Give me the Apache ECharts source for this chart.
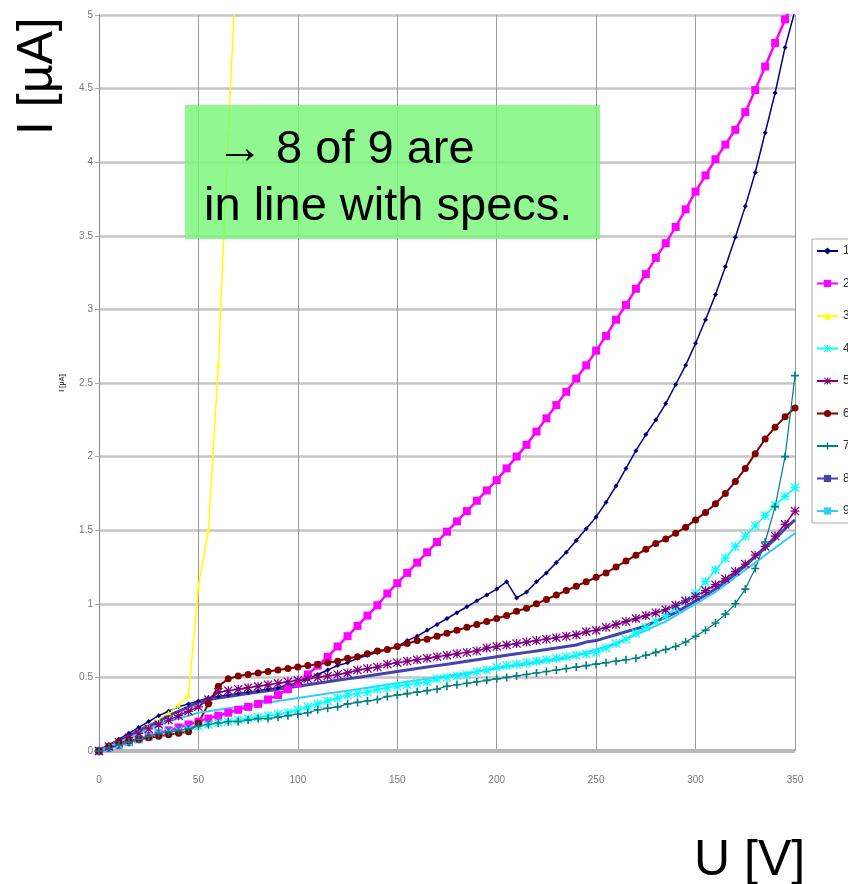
<!DOCTYPE html>
<html>
<head>
<meta charset="utf-8">
<script src="https://cdn.jsdelivr.net/npm/echarts@6/dist/echarts.min.js"></script>
<style>
  html, body { margin: 0; padding: 0; background: #fff; }
  #chart { width: 848px; height: 884px; }
</style>
</head>
<body>
<div id="chart"></div>
<script>
// voltage steps [V]
var volts = [0, 5, 10, 15, 20, 25, 30, 35, 40, 45, 50, 55, 60, 65, 70, 75, 80, 85, 90, 95,
    100, 105, 110, 115, 120, 125, 130, 135, 140, 145, 150, 155, 160, 165, 170, 175, 180, 185, 190, 195,
    200, 205, 210, 215, 220, 225, 230, 235, 240, 245, 250, 255, 260, 265, 270, 275, 280, 285, 290, 295,
    300, 305, 310, 315, 320, 325, 330, 335, 340, 345, 350];

var xTicks = [0, 50, 100, 150, 200, 250, 300, 350];
var yTicks = [0, 0.5, 1, 1.5, 2, 2.5, 3, 3.5, 4, 4.5, 5];
var names = ['1', '2', '3', '4', '5', '6', '7', '8', '9'];

// currents [uA], one value per voltage step
var cur1 = [0, 0.04, 0.08, 0.12, 0.16, 0.2, 0.24, 0.27, 0.3, 0.32,
    0.34, 0.36, 0.37, 0.38, 0.39, 0.4, 0.41, 0.42, 0.43, 0.45,
    0.46, 0.49, 0.52, 0.55, 0.58, 0.6, 0.63, 0.65, 0.67, 0.69,
    0.71, 0.75, 0.78, 0.82, 0.86, 0.9, 0.94, 0.98, 1.02, 1.06,
    1.1, 1.15, 1.04, 1.08, 1.15, 1.21, 1.28, 1.35, 1.43, 1.51,
    1.59, 1.69, 1.8, 1.92, 2.04, 2.15, 2.25, 2.36, 2.49, 2.62,
    2.77, 2.93, 3.1, 3.29, 3.49, 3.7, 3.93, 4.2, 4.47, 4.78, 5.03];
var cur2 = [0, 0.02, 0.04, 0.06, 0.08, 0.1, 0.12, 0.14, 0.16, 0.18,
    0.2, 0.22, 0.24, 0.26, 0.28, 0.3, 0.32, 0.35, 0.38, 0.42,
    0.46, 0.52, 0.58, 0.64, 0.71, 0.78, 0.85, 0.92, 0.99, 1.07,
    1.14, 1.21, 1.28, 1.35, 1.42, 1.49, 1.56, 1.63, 1.7, 1.77,
    1.84, 1.92, 2.0, 2.08, 2.17, 2.26, 2.35, 2.44, 2.53, 2.62,
    2.72, 2.82, 2.93, 3.03, 3.14, 3.24, 3.35, 3.45, 3.56, 3.68,
    3.8, 3.91, 4.02, 4.12, 4.22, 4.34, 4.49, 4.65, 4.81, 4.97, 5.12];
var cur3 = [0, 0.03, 0.06, 0.09, 0.13, 0.17, 0.21, 0.26, 0.31, 0.38,
    1.12, 1.5, 2.62, 4.2, 5.6];
var cur4 = [0, 0.02, 0.04, 0.06, 0.08, 0.1, 0.12, 0.13, 0.14, 0.15,
    0.17, 0.18, 0.19, 0.2, 0.21, 0.22, 0.23, 0.24, 0.25, 0.26,
    0.28, 0.3, 0.32, 0.34, 0.36, 0.38, 0.39, 0.4, 0.42, 0.43,
    0.44, 0.45, 0.46, 0.47, 0.49, 0.5, 0.51, 0.52, 0.54, 0.55,
    0.57, 0.58, 0.59, 0.6, 0.61, 0.62, 0.63, 0.64, 0.65, 0.66,
    0.67, 0.7, 0.73, 0.76, 0.8, 0.84, 0.88, 0.92, 0.97, 1.02,
    1.07, 1.15, 1.23, 1.31, 1.39, 1.46, 1.53, 1.6, 1.67, 1.73, 1.79];
var cur5 = [0, 0.03, 0.06, 0.09, 0.12, 0.15, 0.18, 0.21, 0.24, 0.27,
    0.3, 0.35, 0.4, 0.41, 0.42, 0.43, 0.44, 0.45, 0.46, 0.47,
    0.48, 0.49, 0.5, 0.51, 0.52, 0.53, 0.55, 0.56, 0.57, 0.59,
    0.6, 0.61, 0.62, 0.63, 0.64, 0.65, 0.66, 0.67, 0.68, 0.7,
    0.71, 0.72, 0.73, 0.74, 0.75, 0.76, 0.77, 0.78, 0.79, 0.81,
    0.82, 0.84, 0.86, 0.88, 0.9, 0.92, 0.94, 0.96, 0.99, 1.02,
    1.05, 1.09, 1.13, 1.17, 1.22, 1.27, 1.33, 1.39, 1.46, 1.54, 1.63];
var cur6 = [0, 0.03, 0.06, 0.07, 0.08, 0.09, 0.1, 0.11, 0.12, 0.13,
    0.19, 0.32, 0.44, 0.49, 0.51, 0.52, 0.53, 0.54, 0.55, 0.56,
    0.57, 0.58, 0.59, 0.6, 0.61, 0.63, 0.64, 0.66, 0.68, 0.69,
    0.71, 0.73, 0.75, 0.76, 0.78, 0.8, 0.82, 0.84, 0.86, 0.88,
    0.9, 0.92, 0.95, 0.97, 1.0, 1.03, 1.06, 1.09, 1.12, 1.15,
    1.18, 1.21, 1.25, 1.29, 1.33, 1.37, 1.41, 1.44, 1.48, 1.52,
    1.57, 1.62, 1.68, 1.75, 1.83, 1.92, 2.02, 2.12, 2.2, 2.27, 2.33];
var cur7 = [0, 0.02, 0.04, 0.06, 0.08, 0.1, 0.12, 0.13, 0.14, 0.15,
    0.17, 0.18, 0.19, 0.2, 0.2, 0.21, 0.22, 0.22, 0.23, 0.24,
    0.25, 0.26, 0.28, 0.29, 0.3, 0.32, 0.33, 0.34, 0.35, 0.37,
    0.38, 0.39, 0.4, 0.41, 0.42, 0.44, 0.45, 0.46, 0.47, 0.48,
    0.49, 0.5, 0.51, 0.52, 0.53, 0.54, 0.55, 0.56, 0.57, 0.58,
    0.59, 0.6, 0.61, 0.62, 0.63, 0.65, 0.67, 0.69, 0.71, 0.74,
    0.78, 0.82, 0.87, 0.93, 1.0, 1.1, 1.24, 1.42, 1.66, 2.0, 2.55];
var cur8 = [0, 0.04, 0.07, 0.1, 0.14, 0.17, 0.2, 0.24, 0.27, 0.3,
    0.33, 0.35, 0.36, 0.37, 0.38, 0.39, 0.4, 0.41, 0.42, 0.43,
    0.44, 0.45, 0.46, 0.47, 0.48, 0.49, 0.5, 0.51, 0.52, 0.53,
    0.54, 0.55, 0.56, 0.57, 0.58, 0.59, 0.6, 0.61, 0.62, 0.63,
    0.64, 0.65, 0.66, 0.67, 0.68, 0.69, 0.7, 0.71, 0.72, 0.74,
    0.75, 0.77, 0.79, 0.81, 0.83, 0.85, 0.88, 0.91, 0.94, 0.98,
    1.02, 1.06, 1.1, 1.15, 1.2, 1.26, 1.32, 1.38, 1.44, 1.51, 1.57];
var cur9 = [0, 0.03, 0.06, 0.09, 0.12, 0.15, 0.18, 0.2, 0.22, 0.24,
    0.26, 0.27, 0.28, 0.29, 0.3, 0.31, 0.32, 0.33, 0.34, 0.35,
    0.36, 0.37, 0.38, 0.39, 0.4, 0.41, 0.42, 0.43, 0.44, 0.45,
    0.46, 0.47, 0.48, 0.49, 0.5, 0.51, 0.52, 0.53, 0.54, 0.55,
    0.56, 0.57, 0.58, 0.59, 0.6, 0.61, 0.62, 0.63, 0.65, 0.67,
    0.69, 0.71, 0.73, 0.76, 0.79, 0.82, 0.85, 0.88, 0.92, 0.96,
    1.0, 1.04, 1.08, 1.13, 1.18, 1.23, 1.28, 1.33, 1.38, 1.43, 1.48];

var currents = [cur1, cur2, cur3, cur4, cur5, cur6, cur7, cur8, cur9];
var colors = ['#000080', '#FF00FF', '#FFFF00', '#00FFFF', '#800080', '#800000', '#008080', '#4444AA', '#33CCFF'];

var plusPath = 'path://M4,0h2v4h4v2h-4v4h-2v-4h-4v-2h4z';
var starPath = 'path://M4.3,0h1.4v4.3h4.3v1.4h-4.3v4.3h-1.4v-4.3h-4.3v-1.4h4.3zM1,0L5,4L9,0L10,1L6,5L10,9L9,10L5,6L1,10L0,9L4,5L0,1z';
var symbols = ['diamond', 'rect', 'triangle', starPath, starPath, 'circle', plusPath, 'rect', 'rect'];
var symbolSizes = [5, 8, 5, 9, 9, 7, 8, 4, 4];
var showMarks = [true, true, true, true, true, true, true, false, false];
var lineWidths = [1.5, 2.5, 1.5, 1.5, 1.5, 2, 1.2, 3, 2];

function pairs(vals) {
    var out = [];
    for (var i = 0; i < vals.length; i++) {
        out.push([volts[i], vals[i]]);
    }
    return out;
}

var series = [];
for (var s = 0; s < currents.length; s++) {
    series.push({
        name: names[s],
        type: 'line',
        data: pairs(currents[s]),
        symbol: symbols[s],
        symbolSize: symbolSizes[s],
        showSymbol: showMarks[s],
        lineStyle: { color: colors[s], width: lineWidths[s] },
        itemStyle: { color: colors[s] },
        clip: true,
        animation: false
    });
}

var fontFam = '"Liberation Sans", Arial, sans-serif';

var chart = echarts.init(document.getElementById('chart'));
var option = {
    backgroundColor: '#ffffff',
    animation: false,
    grid: { left: 99, right: 53, top: 15, bottom: 133 },
    xAxis: {
        type: 'value',
        min: xTicks[0],
        max: xTicks[xTicks.length - 1],
        interval: 50,
        axisLine: { show: false },
        axisTick: { show: false },
        axisLabel: { color: '#777', fontSize: 10, fontFamily: fontFam, margin: 24 },
        splitLine: { show: true, lineStyle: { color: '#999', width: 1 } }
    },
    yAxis: {
        type: 'value',
        min: yTicks[0],
        max: yTicks[yTicks.length - 1],
        interval: 0.5,
        name: 'I [µA]',
        nameLocation: 'middle',
        nameGap: 33,
        nameRotate: 90,
        nameTextStyle: { fontSize: 7, fontWeight: 'bold', color: '#444', fontFamily: fontFam },
        axisLine: { show: true, onZero: false, lineStyle: { color: '#888', width: 1 } },
        axisTick: { show: true, length: 4, lineStyle: { color: '#aaa' } },
        axisLabel: { color: '#777', fontSize: 10, fontFamily: fontFam, margin: 6 },
        splitLine: { show: true, lineStyle: { color: '#c6c6c6', width: 2.5 } }
    },
    legend: {
        data: names,
        orient: 'vertical',
        left: 812,
        top: 239,
        padding: [6, 10, 6, 4],
        itemWidth: 21,
        itemHeight: 9,
        itemGap: 20.5,
        borderColor: '#aaa',
        borderWidth: 1,
        textStyle: { fontSize: 12, color: '#333', fontFamily: fontFam }
    },
    graphic: [
        {
            type: 'line',
            shape: { x1: 99, y1: 751, x2: 795, y2: 751 },
            style: { stroke: '#b8b8b8', lineWidth: 4 },
            z: 1
        },
        {
            type: 'rect',
            shape: { x: 185, y: 105, width: 415, height: 134 },
            style: { fill: 'rgba(118, 246, 118, 0.8)' },
            z: 100
        },
        {
            type: 'text',
            x: 216, y: 127,
            style: { text: '→ 8 of 9 are', font: '47px ' + fontFam, fill: '#000' },
            z: 101
        },
        {
            type: 'text',
            x: 204, y: 184,
            style: { text: 'in line with specs.', font: '47px ' + fontFam, fill: '#000' },
            z: 101
        },
        {
            type: 'text',
            x: 13, y: 135,
            rotation: Math.PI / 2,
            style: { text: 'I [µA]', font: '50px ' + fontFam, fill: '#000' },
            z: 101
        },
        {
            type: 'text',
            x: 694, y: 836,
            style: { text: 'U [V]', font: '50px ' + fontFam, fill: '#000' },
            z: 101
        }
    ],
    series: series
};
chart.setOption(option);
</script>
</body>
</html>
